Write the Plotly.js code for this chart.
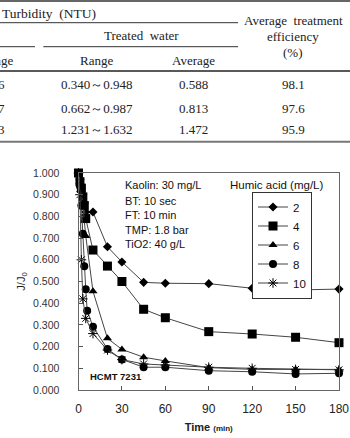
<!DOCTYPE html>
<html>
<head>
<meta charset="utf-8">
<script src="https://cdn.plot.ly/plotly-3.0.1.min.js"></script>
<style>html,body{margin:0;padding:0;background:#fff;}#chart{width:350px;height:438px;}</style>
</head>
<body>
<div id="chart"></div>
<script>
// ---- data ----
const seriesNames = ["2", "4", "6", "8", "10"];
const time2 = [0, 1, 2, 3, 4, 5, 10, 20, 30, 45, 60, 90, 120, 150, 180];
const flux2 = [1.0, 0.97, 0.93, 0.90, 0.86, 0.82, 0.82, 0.66, 0.59, 0.496, 0.492, 0.49, 0.469, 0.461, 0.465];
const time4 = [0, 1, 2, 3, 4, 5, 10, 20, 30, 45, 60, 90, 120, 150, 180];
const flux4 = [1.0, 0.96, 0.93, 0.89, 0.85, 0.79, 0.645, 0.571, 0.50, 0.372, 0.333, 0.269, 0.258, 0.243, 0.218];
const time6 = [0, 1, 2, 3, 4, 5, 10, 20, 30, 45, 60, 90, 120, 150, 180];
const flux6 = [1.0, 0.96, 0.92, 0.86, 0.78, 0.71, 0.455, 0.238, 0.187, 0.151, 0.134, 0.103, 0.095, 0.095, 0.095];
const time8 = [0, 1, 2, 3, 4, 5, 6, 10, 20, 30, 45, 60, 90, 120, 150, 180];
const flux8 = [1.0, 0.94, 0.85, 0.72, 0.57, 0.464, 0.365, 0.292, 0.189, 0.141, 0.105, 0.105, 0.089, 0.084, 0.074, 0.077];
const time10 = [0, 1, 2, 3, 5, 10, 20, 30, 45, 60, 90, 120, 150, 180];
const flux10 = [1.0, 0.90, 0.60, 0.42, 0.33, 0.26, 0.184, 0.14, 0.12, 0.115, 0.105, 0.10, 0.095, 0.093];

const xTicks = [0, 30, 60, 90, 120, 150, 180];
const conditions = ["Kaolin: 30 mg/L", "BT: 10 sec", "FT: 10 min", "TMP: 1.8 bar", "TiO2: 40 g/L"];

// table fragment above the chart
const tableRangeCol = ["0.340～0.948", "0.662～0.987", "1.231～1.632"];
const tableAvgCol = ["0.588", "0.813", "1.472"];
const tableEffCol = ["98.1", "97.6", "95.9"];
const tableFirstCol = ["6", "7", "3"];

// ---- helpers (pixel -> paper) ----
const W = 350, H = 438;
const px = x => x / W;
const py = y => 1 - y / H;

const symbols = ["diamond", "square", "triangle-up", "circle", "asterisk-open"];
const sizes = [7, 9, 8, 8, 8];
const times = [time2, time4, time6, time8, time10];
const fluxes = [flux2, flux4, flux6, flux8, flux10];

const traces = seriesNames.map((n, i) => ({
  type: "scatter",
  mode: "lines+markers",
  name: n,
  x: times[i],
  y: fluxes[i],
  cliponaxis: false,
  line: {color: "#444", width: 1},
  marker: {symbol: symbols[i], size: sizes[i], color: "#000",
           line: {color: "#000", width: i === 4 ? 1 : 0}}
}));

const serif = "Liberation Serif, Times New Roman, serif";
const sans = "Liberation Sans, Arial, sans-serif";

const annotations = [];
function addText(text, x, y, opts) {
  annotations.push(Object.assign({
    text: text, xref: "paper", yref: "paper", x: px(x), y: py(y),
    xanchor: "center", yanchor: "middle", showarrow: false,
    font: {family: serif, size: 13, color: "#222"}
  }, opts || {}));
}

// table header
addText("Turbidity  (NTU)", 0, 13.5, {xanchor: "left", font: {family: serif, size: 13.5, color: "#222"}});
addText("Treated  water", 141.7, 35);
addText("Average  treatment", 293, 21);
addText("efficiency", 293, 36);
addText("(%)", 293, 52);
addText("Range", 15, 60, {xanchor: "right"});
addText("Range", 96.7, 60);
addText("Average", 193.3, 60);
const rowY = [85, 108.5, 130];
rowY.forEach((y, i) => {
  addText(tableFirstCol[i], 6.5, y, {xanchor: "right"});
  addText(tableRangeCol[i], 96.7, y);
  addText(tableAvgCol[i], 193.3, y);
  addText(tableEffCol[i], 293, y);
});

// condition texts
const condY = [185, 200.5, 215, 229.5, 243.5];
conditions.forEach((c, i) => {
  addText(c, 122.5, condY[i], {xanchor: "left",
    font: {family: sans, size: 11, color: "#111"}});
});
addText("Humic acid (mg/L)", 228, 185, {xanchor: "left",
  font: {family: sans, size: 11.5, color: "#111"}});
addText("<b>HCMT 7231</b>", 88, 376, {xanchor: "left",
  font: {family: sans, size: 9.5, color: "#111"}});

const shapes = [];
function hline(x0, x1, y, w, c) {
  shapes.push({type: "line", xref: "paper", yref: "paper",
    x0: px(x0), x1: px(x1), y0: py(y), y1: py(y),
    line: {color: c || "#333", width: w || 1}});
}
hline(0, 350, 1, 2, "#666");
hline(0, 238, 22.7, 1, "#333");
hline(0, 35, 46.7, 1, "#333");
hline(43.3, 238, 46.7, 1, "#333");
hline(0, 350, 71, 1.5, "#222");
hline(0, 350, 141.7, 2, "#777");

const layout = {
  width: W, height: H,
  margin: {l: 0, r: 0, t: 0, b: 0},
  paper_bgcolor: "#fff", plot_bgcolor: "#fff",
  showlegend: true,
  legend: {
    x: px(252), y: py(191.5), xanchor: "left", yanchor: "top",
    bordercolor: "#333", borderwidth: 1, bgcolor: "#fff",
    font: {family: sans, size: 11.5, color: "#111"},
    itemwidth: 30, tracegroupgap: 0
  },
  xaxis: {
    domain: [px(78.5), px(339)], range: [0, 180],
    tickvals: xTicks, ticks: "inside", ticklen: 4, tickcolor: "#555",
    showline: true, linecolor: "#666", linewidth: 1, mirror: true,
    showgrid: false, zeroline: false,
    ticklabelstandoff: 8,
    tickfont: {family: sans, size: 12, color: "#222"},
    title: {text: "<b>Time</b> <span style='font-size:8px'><b>(min)</b></span>",
            font: {family: sans, size: 11, color: "#222"}, standoff: 7}
  },
  yaxis: {
    domain: [py(390), py(173)], range: [0, 1],
    dtick: 0.1, tick0: 0, tickformat: ".3f", ticks: "inside", ticklen: 4, tickcolor: "#555",
    showline: true, linecolor: "#666", linewidth: 1, mirror: true,
    showgrid: false, zeroline: false,
    ticklabelstandoff: 16,
    tickfont: {family: sans, size: 10.5, color: "#333"},
    title: {text: "J/J<sub>0</sub>", font: {family: sans, size: 11, color: "#222"}, standoff: 5}
  },
  annotations: annotations,
  shapes: shapes
};

Plotly.newPlot("chart", traces, layout, {staticPlot: true, displayModeBar: false});
</script>
</body>
</html>
